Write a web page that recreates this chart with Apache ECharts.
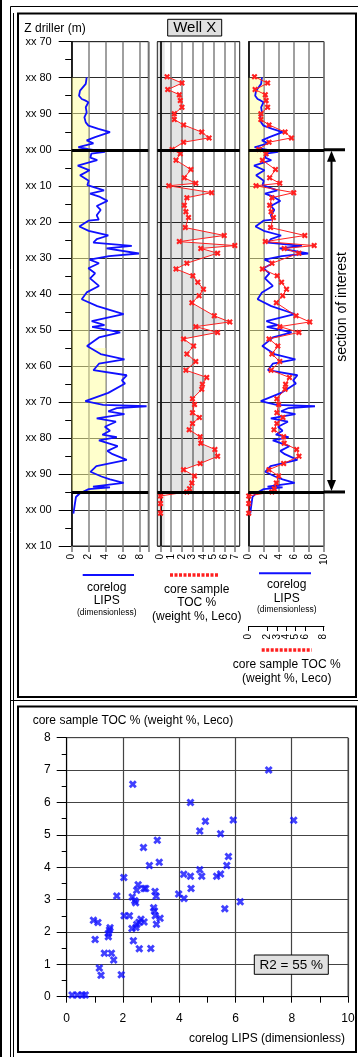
<!DOCTYPE html>
<html>
<head>
<meta charset="utf-8">
<script src="https://cdn.jsdelivr.net/npm/echarts@6.0.0/dist/echarts.min.js"></script>
<style>
html, body { margin: 0; padding: 0; background: #fff; }
#main { width: 358px; height: 1057px; }
</style>
</head>
<body>
<div id="main"></div>
<script>
//////////// data ////////////
// corelog LIPS, depth (m, continuous: 100 = "xx 00") and value
var lipsDepth = [79.9, 81.7, 83.6, 85, 85.9, 86.3, 86.8, 88.2, 89.6, 91, 92.4, 93.3, 94.2, 95.1, 96.5, 97.4, 98.2, 99.3, 99.8,
	100.6, 101.1, 102.2, 102.9, 104.4, 105.7, 107.1, 108.6, 109.8, 111.3, 112.2, 113.1, 114.2, 115.6, 116.7, 118.2, 119.4, 119.7,
	121.3, 122.5, 123.8, 124.8, 125.8, 126.7, 127.4, 128.8, 129.5, 130.5, 131.5, 132.9, 134.3, 135.7, 137.8, 139.6, 141.5, 143.4,
	145.6, 147.6, 148.7, 149.2, 150.7, 152.1, 154.5, 156.7, 158.2, 159.4, 161.2, 162.6, 164, 164.9, 167.5, 169.8, 170.8, 171.2,
	171.7, 172.6, 173.4, 174.6, 175.5, 176.9, 178, 179.1, 179.8, 180.7, 182.3, 183.6, 184.5, 186.1, 187.8, 189.4, 190.7, 191.5,
	192.5, 193.5, 193.7, 194.2, 195.1, 195.5, 196.4, 198.2, 201];
var lipsValue = [1.76, 1.65, 0.98, 0.86, 1.18, 1.57, 1.96, 1.65, 1.76, 1.49, 1.65, 1.96, 3.14, 4.5, 2.75, 1.76, 2.55, 0.78, 1.96,
	3.9, 2.3, 2.2, 3.0, 0.71, 2.1, 0.98, 2.0, 1.84, 3.8, 2.16, 3.33, 4.2, 2.94, 3.4, 2.94, 3.18, 1.96,
	0.9, 2.0, 4.3, 2.94, 2.55, 7.06, 4.1, 7.9, 4.4, 2.1, 3.2, 1.96, 2.75, 2.16, 3.2, 1.76, 1.18, 3.0,
	6.1, 2.35, 3.85, 2.4, 5.7, 3.2, 1.8, 3.4, 6.2, 3.2, 2.55, 6.47, 5.9, 6.27, 4.3, 1.6, 3.7, 8.8,
	5.3, 4.3, 6.2, 2.94, 5.2, 3.9, 4.5, 3.6, 5.3, 3.2, 5.4, 4.2, 4.8, 6.47, 2.9, 2.2, 3.5, 4.5,
	6.1, 2.5, 4.5, 2.0, 1.2, 0.9, 0.5, 0.38, 0.2];

// core sample TOC % (weight %, Leco)
var tocDepth = [79.7, 81.5, 83.3, 84.7, 86.3, 88.2, 90, 91.6, 93.1, 95.1, 96.7, 97.9, 99.9, 101.1, 102.9, 105.5, 107.8, 109.3, 110,
	111.9, 113.3, 115.4, 117.2, 118.8, 121.6, 123.8, 125.5, 126.6, 127.4, 128.7, 131.5, 133.1, 135, 136.8, 138.7, 140.5, 142.5,
	146.1, 147.8, 149.1, 150.7, 152.5, 154.5, 156.7, 158.8, 161.2, 163.2, 165.1, 166.5, 169.1, 170.7, 173, 174.3, 176, 177.7,
	179.7, 181.5, 183.2, 185.1, 187.1, 188.8, 190.6, 192.5, 194.1, 195, 196.1, 198.2, 200.9];
var tocValue = [0.62, 2.02, 0.68, 1.77, 1.86, 2.02, 1.30, 1.30, 2.17, 3.88, 4.57, 2.17, 1.09, 1.86, 1.46, 2.86, 2.24, 3.32, 0.78,
	4.81, 2.48, 2.24, 2.39, 2.64, 2.33, 5.99, 1.77, 6.99, 3.79, 5.37, 2.48, 1.46, 3.04, 3.51, 4.04, 3.63, 2.95,
	5.06, 6.52, 3.32, 5.37, 2.17, 3.11, 2.48, 3.32, 2.39, 4.35, 3.94, 3.88, 3.01, 3.2, 3.01, 3.66, 3.01, 2.7,
	3.73, 3.79, 5.12, 5.37, 3.73, 2.17, 3.2, 2.95, 2.73, 2.48, 0, 0, 0];

// cross plot
var scatterLips = [7.18, 2.35, 4.4, 4.93, 5.92, 8.07, 4.73, 5.47, 3.22, 2.73, 5.75, 5.69, 2.94, 3.29, 2.03, 4.16, 4.40, 4.73,
	4.80, 5.33, 5.47, 2.54, 2.75, 2.81, 2.49, 2.33, 2.42, 2.45, 1.78, 3.14, 3.18, 3.98, 4.17, 4.42, 6.17, 5.62, 3.09, 3.12,
	3.15, 3.32, 3.19, 2.04, 2.23, 2.64, 2.57, 2.75, 2.49, 2.46, 2.32, 1.54, 1.52, 1.48, 1.48, 0.95, 1.11, 1.01, 2.37, 2.58,
	2.99, 1.34, 1.59, 1.67, 1.16, 1.22, 1.94, 0.19, 0.38, 0.56, 0.66];
var scatterToc = [7.0, 6.56, 6.0, 5.42, 5.46, 5.45, 5.12, 5.03, 4.83, 4.61, 4.33, 4.05, 4.05, 4.15, 3.68, 3.78, 3.72, 3.92,
	3.72, 3.72, 3.79, 3.46, 3.34, 3.34, 3.29, 3.08, 2.96, 2.9, 3.11, 3.25, 3.10, 3.17, 3.03, 3.34, 2.93, 2.72, 2.75, 2.65,
	2.5, 2.42, 2.24, 2.5, 2.5, 2.39, 2.3, 2.31, 2.23, 2.14, 2.11, 2.13, 2.06, 1.95, 1.85, 2.36, 2.29, 1.77, 1.73, 1.48,
	1.49, 1.34, 1.34, 1.13, 0.89, 0.66, 0.68, 0.05, 0.05, 0.05, 0.05];

var tocTicks = [0, 1, 2, 3, 4, 5, 6, 7];
var lipsTicks = [0, 2, 4, 6, 8, 10];
var thickDepths = [100, 195];          // limits of the section of interest
var coreTop = 80, coreBase = 195;

//////////// style ////////////
var FONT = '"Liberation Sans", Arial, sans-serif';
var BLUE = '#1010ff';
var RED = '#ff2020';
var X_MARK = 'path://M0,2.5L2.5,0L5,2.5L7.5,0L10,2.5L7.5,5L10,7.5L7.5,10L5,7.5L2.5,10L0,7.5L2.5,5Z';
var YELLOW = 'rgba(255,255,153,0.5)';
var GREY = 'rgba(0,0,0,0.1)';

function depthLabel(v) {
	var n = v % 100;
	return 'xx ' + (n < 10 ? '0' + n : n);
}

function pairs(xs, ys) {
	return xs.map(function(x, i) { return [x, ys[i]]; });
}

var lipsData = pairs(lipsValue, lipsDepth);
var tocData = pairs(tocValue, tocDepth);

//////////// axes ////////////
function trackY(gridIndex, showLabels) {
	return {
		type: 'value', gridIndex: gridIndex, inverse: true,
		min: 70, max: 210, interval: 10,
		axisLine: { show: true, lineStyle: { color: '#000', width: 1.5 } },
		axisTick: { show: showLabels, length: 13, lineStyle: { color: '#000' } },
		minorTick: { show: showLabels, splitNumber: 2, length: 6.5, lineStyle: { color: '#000' } },
		axisLabel: { show: showLabels, margin: 20, fontSize: 11, color: '#000', fontFamily: FONT, formatter: depthLabel },
		splitLine: { show: true, lineStyle: { color: '#2a2a2a', width: 1.2 } }
	};
}

function trackX(gridIndex, min, max, interval) {
	return {
		type: 'value', gridIndex: gridIndex, position: 'bottom',
		min: min, max: max, interval: interval,
		axisLine: { show: false },
		axisTick: { show: true, length: 6, lineStyle: { color: '#777', width: 1.5 } },
		axisLabel: { rotate: 90, margin: 8, fontSize: 10, color: '#000', fontFamily: FONT,
			showMinLabel: true, showMaxLabel: true, hideOverlap: false,
			formatter: function(v) { return v > 8 && max === 9 ? '' : v; } },
		splitLine: { show: true, lineStyle: { color: '#808080', width: 1.5 } }
	};
}

var xTrack2 = trackX(1, -0.3, 7.45, 1);
xTrack2.axisLabel.customValues = tocTicks;
xTrack2.axisTick.customValues = tocTicks;

// track 3 labels are placed below from the axis scale (the edge "10" gets dropped otherwise)
var xTrack3 = trackX(2, 0, 10, 2);
xTrack3.axisLabel.show = false;

function gridBox(left, top, width, height, border) {
	return { left: left, top: top, width: width, height: height, containLabel: false, outerBoundsMode: 'none',
		show: true, borderColor: border, borderWidth: 1, backgroundColor: 'transparent' };
}

function thickLines() {
	return {
		silent: true, symbol: ['none', 'none'], label: { show: false },
		lineStyle: { color: '#000', width: 3, type: 'solid' },
		data: thickDepths.map(function(d) { return { yAxis: d }; })
	};
}

// 회색 채움 (TOC curve -> left)
function renderTocFill(params, api) {
	if (params.dataIndex !== 0) return;
	var pts = [];
	var base = 0.4;
	var first = -1;
	for (var i = 0; i < tocDepth.length; i++) {
		if (tocDepth[i] > coreBase) break;
		if (first < 0) first = i;
		pts.push(api.coord([tocValue[i], tocDepth[i]]));
	}
	pts.unshift(api.coord([base, tocDepth[first]]));
	pts.push(api.coord([base, coreBase]));
	return { type: 'polygon', shape: { points: pts }, style: { fill: GREY } };
}

var option = {
	animation: false,
	backgroundColor: '#fff',
	textStyle: { fontFamily: FONT },
	grid: [
		gridBox(71.7, 41.7, 76.6, 504.3, '#222'),
		gridBox(157.3, 41.7, 82.4, 504.3, '#222'),
		gridBox(248.7, 41.7, 75.3, 504.3, '#222'),
		gridBox(66.7, 737.7, 281.3, 259, '#555')
	],
	xAxis: [
		trackX(0, 0, 9, 2),
		xTrack2,
		xTrack3,
		{
			type: 'value', gridIndex: 2, position: 'bottom', offset: 80,
			min: 0, max: 8.04, interval: 1,
			axisLine: { show: true, lineStyle: { color: '#000', width: 1 } },
			axisTick: { show: true, length: 5, lineStyle: { color: '#000' }, customValues: [0, 1, 2, 3, 4, 5, 6, 7, 8] },
			axisLabel: { rotate: 90, margin: 8, fontSize: 10, color: '#000', fontFamily: FONT,
				showMinLabel: true, showMaxLabel: true, hideOverlap: false,
				customValues: [0, 1, 2, 3, 4, 5, 6, 7, 8] },
			splitLine: { show: false }
		},
		{
			type: 'value', gridIndex: 3, min: 0, max: 10, interval: 2,
			axisLine: { show: true, lineStyle: { color: '#000' } },
			axisTick: { show: true, length: 6, lineStyle: { color: '#000' } },
			minorTick: { show: true, splitNumber: 2, length: 6, lineStyle: { color: '#000' } },
			axisLabel: { margin: 16, fontSize: 12, color: '#000', fontFamily: FONT, showMaxLabel: true },
			splitLine: { show: true, lineStyle: { color: '#444', width: 1.2 } }
		}
	],
	yAxis: [
		trackY(0, true),
		trackY(1, false),
		trackY(2, false),
		{
			type: 'value', gridIndex: 3, min: 0, max: 8, interval: 1,
			axisLine: { show: true, lineStyle: { color: '#000' } },
			axisTick: { show: true, length: 10, lineStyle: { color: '#000' } },
			minorTick: { show: true, splitNumber: 2, length: 5, lineStyle: { color: '#000' } },
			axisLabel: { margin: 16, fontSize: 12, color: '#000', fontFamily: FONT },
			splitLine: { show: true, lineStyle: { color: '#444', width: 1.2 } }
		}
	],
	series: [
		// track 1 : LIPS
		{
			type: 'line', xAxisIndex: 0, yAxisIndex: 0, data: lipsData,
			showSymbol: false, lineStyle: { color: BLUE, width: 1.8 },
			markArea: {
				silent: true, itemStyle: { color: YELLOW },
				data: [
					[{ coord: [0, coreTop] }, { coord: [2, coreBase] }],
					[{ coord: [2, 155] }, { coord: [4, coreBase] }]
				]
			},
			markLine: thickLines()
		},
		// track 2 : TOC
		{
			type: 'custom', xAxisIndex: 1, yAxisIndex: 1, data: tocData,
			renderItem: renderTocFill, silent: true, z: 1
		},
		{
			type: 'line', xAxisIndex: 1, yAxisIndex: 1, data: tocData,
			symbol: X_MARK, symbolSize: 6, showAllSymbol: true,
			itemStyle: { color: RED }, lineStyle: { color: RED, width: 1 },
			markArea: {
				silent: true, itemStyle: { color: GREY },
				data: [[{ coord: [-0.3, 70] }, { coord: [0.4, 210] }]]
			},
			markLine: thickLines()
		},
		// track 3 : LIPS + TOC
		{
			type: 'line', xAxisIndex: 2, yAxisIndex: 2, data: lipsData,
			showSymbol: false, lineStyle: { color: BLUE, width: 1.8 },
			markArea: {
				silent: true, itemStyle: { color: YELLOW },
				data: [[{ coord: [0, coreTop] }, { coord: [2, coreBase] }]]
			},
			markLine: thickLines()
		},
		{
			type: 'line', xAxisIndex: 3, yAxisIndex: 2, data: tocData, z: 3,
			symbol: X_MARK, symbolSize: 6, showAllSymbol: true,
			itemStyle: { color: RED }, lineStyle: { color: RED, width: 1 }
		},
		// cross plot
		{
			type: 'scatter', xAxisIndex: 4, yAxisIndex: 3,
			data: pairs(scatterLips, scatterToc),
			symbol: X_MARK, symbolSize: 8, itemStyle: { color: BLUE }
		}
	]
};

var chart = echarts.init(document.getElementById('main'), null, { renderer: 'canvas' });
chart.setOption(option);

//////////// 장식 (frames, legends, arrow) ////////////
function txt(x, y, s, size, align) {
	return { type: 'text', z: 10, style: { x: x, y: y, text: s, fill: '#000',
		font: size + 'px ' + FONT, align: align || 'center', verticalAlign: 'middle' } };
}
function seg(x1, y1, x2, y2, color, width, dash) {
	return { type: 'line', z: 10, shape: { x1: x1, y1: y1, x2: x2, y2: y2 },
		style: { stroke: color, lineWidth: width, lineDash: dash || null } };
}
function box(x, y, w, h, fill, width) {
	return { type: 'rect', z: 9, shape: { x: x, y: y, width: w, height: h },
		style: { fill: fill, stroke: '#000', lineWidth: width } };
}

var yTop = chart.convertToPixel({ yAxisIndex: 2 }, thickDepths[0]);
var yBot = chart.convertToPixel({ yAxisIndex: 2 }, thickDepths[1]);
var yTrackBase = chart.convertToPixel({ yAxisIndex: 2 }, 210);
var xRight = chart.convertToPixel({ xAxisIndex: 2 }, 10);
var ax = xRight + 7.5;

var graphics = [
	// frames
	seg(1, 0, 1, 1057, '#000', 2),
	box(10.5, 6.5, 400, 1100, 'none', 1),
	seg(13.5, 13, 13.5, 1057, '#000', 1),
	box(18, 13.5, 338, 683.5, 'none', 2),
	seg(10, 700.5, 358, 700.5, '#000', 1),
	box(18, 706.5, 338, 345.5, 'none', 2),

	// header
	txt(24.3, 29, 'Z driller (m)', 12, 'left'),
	box(167.7, 19.3, 54, 16.7, '#e0e0e0', 1),
	txt(194.7, 28, 'Well X', 15),

	// section of interest
	seg(xRight, yTop, xRight + 21, yTop, '#000', 3),
	seg(xRight, yBot, xRight + 21, yBot, '#000', 3),
	seg(ax, yTop + 9, ax, yBot - 9, '#000', 2),
	{ type: 'polygon', z: 10, shape: { points: [[ax, yTop + 1], [ax - 4.5, yTop + 12], [ax + 4.5, yTop + 12]] }, style: { fill: '#000' } },
	{ type: 'polygon', z: 10, shape: { points: [[ax, yBot - 1], [ax - 4.5, yBot - 12], [ax + 4.5, yBot - 12]] }, style: { fill: '#000' } },
	{ type: 'text', z: 10, x: 342.5, y: 307, rotation: Math.PI / 2,
		style: { x: 0, y: 0, text: 'section of interest', fill: '#000', font: '14px ' + FONT, align: 'center', verticalAlign: 'middle' } },

	// track legends
	seg(82.7, 575, 134, 575, BLUE, 2),
	txt(106.7, 588, 'corelog', 12),
	txt(106.7, 601, 'LIPS', 12),
	txt(106.7, 613, '(dimensionless)', 8.5),

	seg(170, 575, 219, 575, RED, 3.5, [3, 1.5]),
	txt(196.7, 589.5, 'core sample', 12),
	txt(196.7, 603, 'TOC %', 12),
	txt(196.7, 617, '(weight %, Leco)', 12),

	seg(259, 573.3, 311, 573.3, BLUE, 2),
	txt(286.7, 585, 'corelog', 12),
	txt(286.7, 598.3, 'LIPS', 12),
	txt(286.7, 610, '(dimensionless)', 8.5),

	seg(261.7, 650, 311.7, 650, RED, 3.5, [3, 1.5]),
	txt(286.7, 665, 'core sample TOC %', 12),
	txt(286.7, 678.5, '(weight %, Leco)', 12),

	// cross plot
	txt(32.7, 720.7, 'core sample TOC % (weight %, Leco)', 12, 'left'),
	txt(345, 1038.5, 'corelog LIPS (dimensionless)', 12, 'right'),
	box(254.3, 955, 74, 19.3, '#e0e0e0', 1),
	txt(291.3, 965, 'R2 = 55 %', 13.5)
];

// track 3 LIPS tick labels, rotated like the other tracks
lipsTicks.forEach(function(v) {
	graphics.push({
		type: 'text', z: 10, x: chart.convertToPixel({ xAxisIndex: 2 }, v), y: yTrackBase + 8, rotation: Math.PI / 2,
		style: { x: 0, y: 0, text: String(v), fill: '#000', font: '10px ' + FONT, align: 'right', verticalAlign: 'middle' }
	});
});

chart.setOption({ graphic: graphics });
</script>
</body>
</html>
